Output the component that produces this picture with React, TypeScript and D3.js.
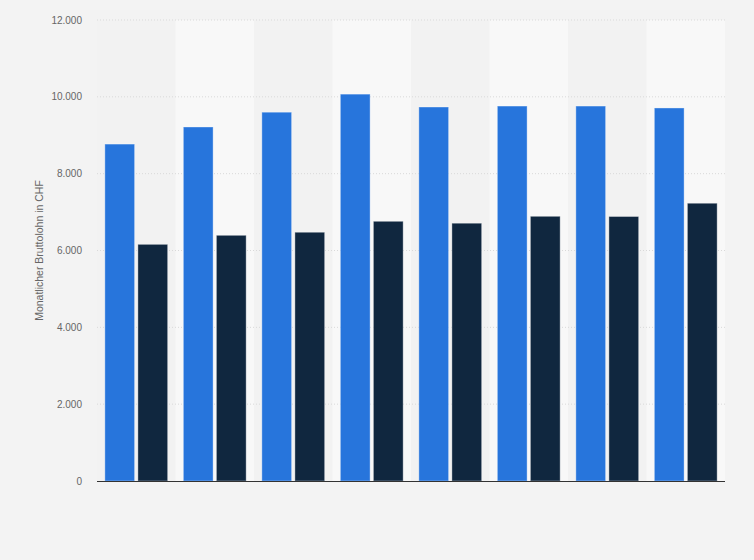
import React from "react";
import * as d3 from "d3";

const categories = ["1", "2", "3", "4", "5", "6", "7", "8"];
const seriesA = [8770, 9215, 9600, 10070, 9735, 9760, 9760, 9710];
const seriesB = [6160, 6395, 6475, 6760, 6710, 6890, 6885, 7230];
const yTicks = [0, 2000, 4000, 6000, 8000, 10000, 12000];
const yTitle = "Monatlicher Bruttolohn in CHF";

const W = 754, H = 560;
const left = 97, right = 725, top = 20, bottom = 481;

export default function App() {
  const x0 = d3.scaleBand<string>().domain(categories).range([left, right]).paddingInner(0.2).paddingOuter(0.1);
  const x1 = d3.scaleBand<string>().domain(["a", "b"]).range([0, x0.bandwidth()]).paddingInner(0.1);
  const y = d3.scaleLinear().domain([0, 12000]).range([bottom, top]);
  const step = x0.step();
  const fmt = (v: number) => d3.format(",")(v).replace(/,/g, ".");
  return (
    <div style={{ position: "fixed", left: 0, top: 0, width: W, height: H }}>
      <svg width={W} height={H} style={{ display: "block", fontFamily: "Arial, 'Liberation Sans', sans-serif" }}>
        <rect x={0} y={0} width={W} height={H} fill="#f3f3f3" />
        {categories.map((c, i) => (
          <rect key={c} x={left + i * step} y={top} width={step} height={bottom - top} fill={i % 2 === 0 ? "#f2f2f2" : "#f8f8f8"} />
        ))}
        {yTicks.map((t) => (
          <g key={t}>
            {t > 0 && (
              <line x1={left} x2={right} y1={y(t)} y2={y(t)} stroke="#d9d9d9" strokeDasharray="1,2" strokeWidth={1} />
            )}
            <text x={82} y={y(t)} dy="0.35em" textAnchor="end" fontSize={10} fill="#666">{fmt(t)}</text>
          </g>
        ))}
        {categories.map((c, i) => (
          <g key={c} transform={`translate(${x0(c)},0)`}>
            <rect x={x1("a")} y={y(seriesA[i])} width={x1.bandwidth()} height={bottom - y(seriesA[i])} fill="#2775dc" stroke="rgba(255,255,255,0.35)" strokeWidth={1} />
            <rect x={x1("b")} y={y(seriesB[i])} width={x1.bandwidth()} height={bottom - y(seriesB[i])} fill="#10273f" stroke="rgba(255,255,255,0.35)" strokeWidth={1} />
          </g>
        ))}
        <line x1={left} x2={right} y1={bottom + 0.5} y2={bottom + 0.5} stroke="#333" strokeWidth={1} />
        <text transform={`translate(43,${(top + bottom) / 2}) rotate(-90)`} textAnchor="middle" fontSize={10.5} fill="#666">{yTitle}</text>
      </svg>
    </div>
  );
}
